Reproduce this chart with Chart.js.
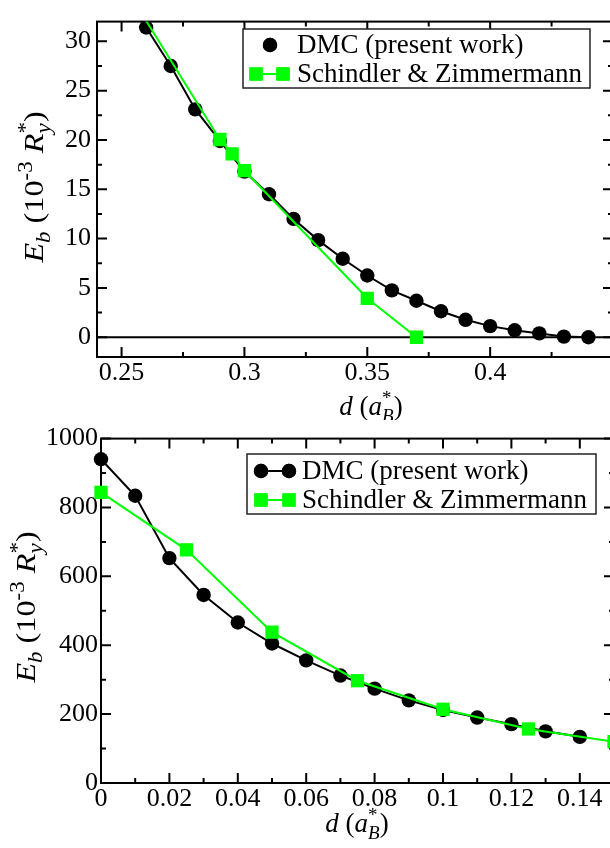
<!DOCTYPE html>
<html>
<head>
<meta charset="utf-8">
<script src="https://cdn.jsdelivr.net/npm/chart.js@4/dist/chart.umd.min.js"></script>
<style>
  html, body { margin: 0; padding: 0; background: #fff; overflow: hidden; width: 610px; height: 848px; }
  canvas { position: absolute; left: 0; }
  #topChart { top: 0; }
  #botChart { top: 420px; }
</style>
</head>
<body>
<canvas id="topChart" width="640" height="420"></canvas>
<canvas id="botChart" width="640" height="428"></canvas>
<script>
// legend names
const seriesNames = ['DMC (present work)', 'Schindler & Zimmermann'];

// upper panel: d from 0.24 to 0.45
const topDmcX = [0.26, 0.27, 0.28, 0.29, 0.30, 0.31, 0.32, 0.33, 0.34, 0.35, 0.36, 0.37, 0.38, 0.39, 0.40, 0.41, 0.42, 0.43, 0.44];
const topDmcE = [31.4, 27.5, 23.1, 19.9, 16.8, 14.5, 12.0, 9.85, 7.96, 6.26, 4.75, 3.7, 2.64, 1.77, 1.13, 0.71, 0.39, 0.07, 0.0];
const topSzX = [0.25, 0.29, 0.295, 0.30, 0.35, 0.37];
const topSzE = [36.1, 20.05, 18.6, 16.9, 3.95, 0.0];
const topXTicks = [0.25, 0.3, 0.35, 0.4];
const topYTicks = [0, 5, 10, 15, 20, 25, 30];

// lower panel: d from 0 to 0.15
const botDmcX = [0, 0.01, 0.02, 0.03, 0.04, 0.05, 0.06, 0.07, 0.08, 0.09, 0.10, 0.11, 0.12, 0.13, 0.14];
const botDmcE = [940, 834, 653, 546, 466, 405, 356, 312, 274, 240, 212, 190, 171, 150, 134];
const botSzX = [0, 0.025, 0.05, 0.075, 0.10, 0.125, 0.15];
const botSzE = [844, 677, 438, 297, 214, 157, 120];
const botXTicks = [0, 0.02, 0.04, 0.06, 0.08, 0.1, 0.12, 0.14];
const botYTicks = [0, 200, 400, 600, 800, 1000];

const SERIF = '"Liberation Serif", "DejaVu Serif", serif';
const GREEN = '#00ff00';

const yTitle = [
  {t: 'E', it: true}, {t: 'b', it: true, sub: true}, {t: ' (10'}, {t: '-3', sup: true},
  {t: ' '}, {t: 'R', it: true}, {t: 'y', it: true, sub: true}, {t: '*', sup: true, stack: true}, {t: ')'}
];
const xTitle = [
  {t: 'd', it: true}, {t: ' ('}, {t: 'a', it: true}, {t: 'B', it: true, sub: true},
  {t: '*', sup: true, stack: true}, {t: ')'}
];

function partFont(p, size) {
  const s = (p.sub || p.sup) ? Math.round(size * 0.7) : size;
  return (p.it ? 'italic ' : '') + s + 'px ' + SERIF;
}

// draws text with sub/superscripts, centred on cx, baseline at cy
function drawRich(ctx, parts, cx, cy, angle, size, stretch) {
  ctx.save();
  let x = 0, total = 0, prevStart = 0, prevW = 0;
  const placed = [];
  parts.forEach(p => {
    ctx.font = partFont(p, size);
    const w = ctx.measureText(p.t).width;
    let start = x;
    if (p.stack) {
      start = prevStart;
      x = prevStart + Math.max(prevW, w);
    } else {
      x += w;
    }
    placed.push({p, start});
    prevStart = start; prevW = w;
    total = Math.max(total, x);
  });
  ctx.translate(cx, cy);
  ctx.rotate(angle || 0);
  ctx.scale(stretch || 1, 1);
  ctx.fillStyle = '#000';
  ctx.textBaseline = 'alphabetic';
  ctx.textAlign = 'left';
  placed.forEach(({p, start}) => {
    ctx.font = partFont(p, size);
    const dy = p.sub ? size * 0.26 : (p.sup ? -size * 0.4 : 0);
    ctx.fillText(p.t, start - total / 2, dy);
  });
  ctx.restore();
}

function frameAndTicks(opts) {
  return {
    id: 'frameTicks',
    beforeDatasetsDraw(chart) {
      const ctx = chart.ctx, a = chart.chartArea;
      const xs = chart.scales.x, ys = chart.scales.y;
      ctx.save();
      ctx.strokeStyle = '#000';
      ctx.lineWidth = 2;
      if (opts.zeroLine) {
        const y0 = ys.getPixelForValue(0);
        ctx.beginPath(); ctx.moveTo(a.left, y0); ctx.lineTo(a.right, y0); ctx.stroke();
      }
      const drawSet = (scale, step, majors, horiz) => {
        const n0 = Math.ceil(scale.min / step - 1e-6), n1 = Math.floor(scale.max / step + 1e-6);
        for (let n = n0; n <= n1; n++) {
          const v = n * step;
          const major = majors.some(m => Math.abs(m - v) < step * 1e-3);
          const len = major ? 10 : 5;
          const p = scale.getPixelForValue(v);
          ctx.beginPath();
          if (horiz) {
            ctx.moveTo(p, a.bottom); ctx.lineTo(p, a.bottom - len);
            ctx.moveTo(p, a.top); ctx.lineTo(p, a.top + len);
          } else {
            ctx.moveTo(a.left, p); ctx.lineTo(a.left + len, p);
            ctx.moveTo(a.right, p); ctx.lineTo(a.right - len, p);
          }
          ctx.stroke();
        }
      };
      drawSet(xs, opts.xMinor, opts.xTicks, true);
      drawSet(ys, opts.yMinor, opts.yTicks, false);
      ctx.strokeRect(a.left, a.top, a.right - a.left, a.bottom - a.top);
      ctx.restore();
    },
    afterDraw(chart) {
      const ctx = chart.ctx;
      const L = opts.legend;
      ctx.save();
      ctx.fillStyle = '#fff';
      ctx.fillRect(L.x, L.y, L.w, L.h);
      ctx.strokeStyle = '#222';
      ctx.lineWidth = 1.5;
      ctx.strokeRect(L.x, L.y, L.w, L.h);
      chart.data.datasets.forEach((ds, i) => {
        const cy = L.rows[i];
        const sym = L.symbols[i];
        ctx.strokeStyle = ds.borderColor;
        ctx.fillStyle = ds.pointBackgroundColor;
        ctx.lineWidth = 2;
        if (sym.length > 1) {
          ctx.beginPath(); ctx.moveTo(sym[0], cy); ctx.lineTo(sym[sym.length - 1], cy); ctx.stroke();
        }
        sym.forEach(sx => {
          Chart.helpers.drawPoint(ctx, {pointStyle: ds.pointStyle, radius: ds.pointRadius, borderWidth: 0}, sx, cy);
          ctx.fill();
        });
        ctx.fillStyle = '#000';
        ctx.font = '27px ' + SERIF;
        ctx.textBaseline = 'middle';
        ctx.textAlign = 'left';
        ctx.fillText(ds.label, L.textX, cy + 1);
      });
      ctx.restore();
      drawRich(ctx, xTitle, opts.xTitle[0], opts.xTitle[1], 0, 27, 1);
      drawRich(ctx, yTitle, opts.yTitle[0], opts.yTitle[1], -Math.PI / 2, 28, 1.15);
    }
  };
}

function makeChart(id, d) {
  const tickFont = {family: SERIF, size: 26};
  return new Chart(document.getElementById(id), {
    type: 'line',
    data: {
      datasets: [
        {
          label: seriesNames[0],
          data: d.dmcX.map((x, i) => ({x, y: d.dmcE[i]})),
          borderColor: '#000', backgroundColor: '#000',
          pointBackgroundColor: '#000', pointBorderColor: '#000',
          pointStyle: 'circle', pointRadius: 7.2, pointBorderWidth: 0,
          borderWidth: 2, tension: 0, order: 1, clip: d.clip
        },
        {
          label: seriesNames[1],
          data: d.szX.map((x, i) => ({x, y: d.szE[i]})),
          borderColor: GREEN, backgroundColor: GREEN,
          pointBackgroundColor: GREEN, pointBorderColor: GREEN,
          pointStyle: 'rect', pointRadius: 9.4, pointBorderWidth: 0,
          borderWidth: 2, tension: 0, order: 0, clip: d.clip
        }
      ]
    },
    options: {
      responsive: false,
      animation: false,
      devicePixelRatio: 1,
      layout: {autoPadding: false, padding: {top: d.padTop, right: d.padRight, left: 0, bottom: 0}},
      plugins: {legend: {display: false}, tooltip: {enabled: false}},
      scales: {
        x: {
          type: 'linear', min: d.xMin, max: d.xMax,
          afterBuildTicks: s => { s.ticks = d.xTicks.map(v => ({value: v})); },
          afterFit: s => { s.height = d.xAxisH; },
          ticks: {font: tickFont, color: '#000', padding: 1, autoSkip: false, maxRotation: 0, callback: v => String(v)},
          grid: {display: false, drawTicks: false},
          border: {display: false}
        },
        y: {
          type: 'linear', min: d.yMin, max: d.yMax,
          afterBuildTicks: s => { s.ticks = d.yTicks.map(v => ({value: v})); },
          afterFit: s => { s.width = d.yAxisW; },
          ticks: {font: tickFont, color: '#000', padding: d.yPad, autoSkip: false, callback: v => String(v)},
          grid: {display: false, drawTicks: false},
          border: {display: false}
        }
      }
    },
    plugins: [frameAndTicks(d)]
  });
}

makeChart('topChart', {
  dmcX: topDmcX, dmcE: topDmcE, szX: topSzX, szE: topSzE,
  xMin: 0.24, xMax: 0.45, yMin: -2, yMax: 32,
  xTicks: topXTicks, yTicks: topYTicks, xMinor: 0.025, yMinor: 2.5,
  padTop: 5, padRight: 27, xAxisH: 63, yAxisW: 97, yPad: 6, clip: 0,
  zeroLine: true,
  legend: {x: 243, y: 29, w: 347, h: 59, rows: [45, 74], symbols: [[270], [256, 283]], textX: 297},
  xTitle: [371, 415], yTitle: [43, 187]
});

makeChart('botChart', {
  dmcX: botDmcX, dmcE: botDmcE, szX: botSzX, szE: botSzE,
  xMin: 0, xMax: 0.15, yMin: 0, yMax: 1000,
  xTicks: botXTicks, yTicks: botYTicks, xMinor: 0.01, yMinor: 100,
  padTop: 12, padRight: 26, xAxisH: 65, yAxisW: 101, yPad: 3, clip: false,
  zeroLine: false,
  legend: {x: 247, y: 34, w: 349, h: 60, rows: [51, 80], symbols: [[261, 289], [261, 289]], textX: 302},
  xTitle: [357, 412], yTitle: [35, 187]
});
</script>
</body>
</html>
